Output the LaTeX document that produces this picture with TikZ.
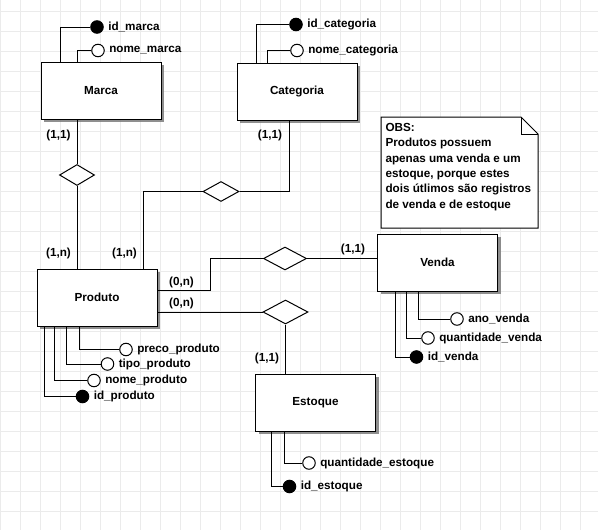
\documentclass[tikz,border=0pt]{standalone}
\usepackage{fontspec}
\setmainfont{Liberation Sans}
\usetikzlibrary{positioning,shapes.geometric,shadows}
\newcommand{\fonte}{\fontsize{11.7}{15.3}\selectfont\bfseries}
\tikzset{
  grade/.style={line width=0.8pt, black!8},
  entidade/.style={draw, fill=white, minimum width=120pt, minimum height=57pt, inner sep=0pt, font=\fonte,
    drop shadow={shadow xshift=3pt, shadow yshift=-3pt, fill=black!55, opacity=0.8}},
  relacao/.style={draw, fill=white, diamond, inner sep=0pt},
  chave/.style={draw, fill=black, circle, minimum size=12.5pt, inner sep=0pt},
  atrib/.style={draw, fill=white, circle, minimum size=12.5pt, inner sep=0pt},
  rotulo/.style={inner sep=0pt, font=\fonte},
}
\newcommand{\atributo}[6]{
  % #1 node name, #2 corner of entity, #3 stem shift, #4 centre, #5 style, #6 text
  \node[#5] (#1) at (#4) {};
  \node[rotulo, right=4pt of #1] (#1 txt) {#6};
  \draw (#1.west) -| ([xshift=#3pt]#2);
}

\begin{document}
\begin{tikzpicture}[x=1pt, y=-1pt, line width=1pt]
\useasboundingbox (0,0) rectangle (598,530);

% background grid
\foreach \x in {0,20,...,580} { \draw[grade] (\x,0) -- (\x,530); }
\foreach \y in {11,31,...,511} { \draw[grade] (0,\y) -- (598,\y); }

% entities
\node[entidade] (marca) at (101,90.5) {Marca};
\node[entidade] (categoria) at (297,91.5) {Categoria};
\node[entidade] (produto) at (97,297.5) {Produto};
\node[entidade] (venda) at (437.5,262.5) {Venda};
\node[entidade] (estoque) at (315.5,402.5) {Estoque};

% relationships
\node[relacao, minimum width=35pt, minimum height=21pt] (relmarca) at (77,175) {};
\node[relacao, minimum width=36pt, minimum height=20pt] (relcategoria) at (221,191.5) {};
\node[relacao, minimum width=43pt, minimum height=23pt] (relvenda) at (285,258.5) {};
\node[relacao, minimum width=45pt, minimum height=24pt] (relestoque) at (285.5,312) {};

\draw (marca.south -| relmarca) -- (relmarca.north);
\draw (relmarca.south) -- (relmarca.south |- produto.north);
\draw ([xshift=-8pt]categoria.south) |- (relcategoria.east);
\draw (relcategoria.west) -| ([xshift=46pt]produto.north);
\draw ([yshift=7.5pt]produto.east) -- ++(53,0) |- (relvenda.west);
\draw (relvenda.east) -- (relvenda.east -| venda.west);
\draw ([yshift=-14.5pt]produto.east) -- (relestoque.west);
\draw (relestoque.south) -- (relestoque.south |- estoque.north);

% cardinalities
\node[rotulo] (c marca) at (58.5,135) {(1,1)};
\node[rotulo] (c produto1) at (58.5,253) {(1,n)};
\node[rotulo] (c produto2) at (124.5,253) {(1,n)};
\node[rotulo] (c categoria) at (270,135.5) {(1,1)};
\node[rotulo] (c produto3) at (181.5,282) {(0,n)};
\node[rotulo] (c produto4) at (181.5,303) {(0,n)};
\node[rotulo] (c venda) at (353,249.5) {(1,1)};
\node[rotulo] (c estoque) at (267,358) {(1,1)};

% attributes
\atributo{idmarca}{marca.north west}{19.5}{97,27}{chave}{id\_marca}
\atributo{nomemarca}{marca.north west}{37}{98,50.5}{atrib}{nome\_marca}
\atributo{idcategoria}{categoria.north west}{20}{296,24.5}{chave}{id\_categoria}
\atributo{nomecategoria}{categoria.north west}{31}{297,50.5}{atrib}{nome\_categoria}
\atributo{preco}{produto.south west}{43}{126,349.5}{atrib}{preco\_produto}
\atributo{tipo}{produto.south west}{30}{107.5,364}{atrib}{tipo\_produto}
\atributo{nomeproduto}{produto.south west}{18}{94,380.5}{atrib}{nome\_produto}
\atributo{idproduto}{produto.south west}{8}{82.5,396.5}{chave}{id\_produto}
\atributo{ano}{venda.south west}{41}{457,319}{atrib}{ano\_venda}
\atributo{qtdvenda}{venda.south west}{29}{428,338}{atrib}{quantidade\_venda}
\atributo{idvenda}{venda.south west}{18}{416.5,357}{chave}{id\_venda}
\atributo{qtdestoque}{estoque.south west}{29.5}{309,463}{atrib}{quantidade\_estoque}
\atributo{idestoque}{estoque.south west}{16}{289.5,486.5}{chave}{id\_estoque}

% note
\draw[fill=white] (381,117) -- (521,117) -- (538,134) -- (538,228) -- (381,228) -- cycle;
\draw (521,117) -- (521,134) -- (538,134);
\node[rotulo, anchor=north west, align=left] (obs) at (385,123) {OBS:\\Produtos possuem\\apenas uma venda e um\\estoque, porque estes\\dois útlimos são registros\\de venda e de estoque};
\end{tikzpicture}
\end{document}
